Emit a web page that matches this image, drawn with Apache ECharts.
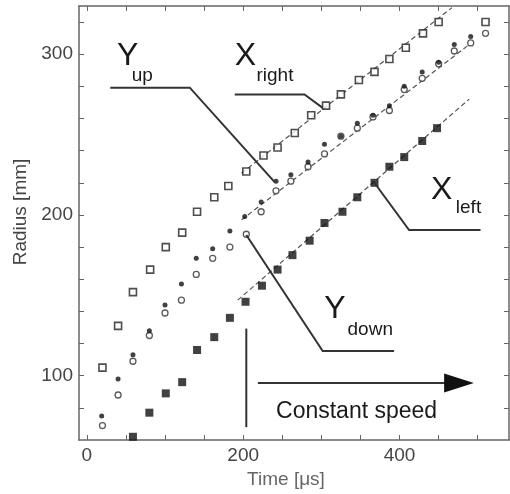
<!DOCTYPE html>
<html>
<head>
<meta charset="utf-8">
<script src="https://cdn.jsdelivr.net/npm/echarts@6/dist/echarts.min.js"></script>
<style>
html,body{margin:0;padding:0;background:#fff;}
#c{width:510px;height:494px;}
</style>
</head>
<body>
<div id="c"></div>
<script>
// ---- data ----
const xTickValues = [0, 50, 100, 150, 200, 250, 300, 350, 400, 450, 500];
const xLabelValues = [0, 200, 400];
const yTickValues = [80, 100, 120, 140, 160, 180, 200, 220, 240, 260, 280, 300, 320];
const yLabelValues = [100, 200, 300];

// X_right: open squares
const xRightT = [20, 40, 59, 81, 101, 122, 141, 163, 181, 204, 226, 244, 266, 287, 306, 325, 348, 368, 387, 408, 430, 450, 510];
const xRightR = [105, 131, 152, 166, 180, 189, 202, 211, 218, 227, 237, 242, 251, 262, 268, 275, 284, 289, 297, 304, 313, 320, 320];

// Y_up: open circles
const yUpT = [20, 40, 59, 80, 100, 121, 140, 161, 183, 204, 223, 242, 261, 283, 304, 325, 346, 366, 387, 406, 429, 450, 470, 491, 510];
const yUpR = [69, 88, 109, 125, 139, 147, 163, 173, 180, 188, 202, 215, 221, 230, 238, 249, 254, 261, 265, 278, 285, 294, 302, 307, 313];

// Y_down: small filled dots
const yDownT = [19, 40, 59, 80, 100, 121, 140, 161, 183, 202, 223, 242, 261, 283, 304, 325, 346, 366, 387, 406, 429, 450, 470, 491];
const yDownR = [75, 98, 113, 128, 144, 157, 173, 179, 190, 199, 208, 221, 225, 233, 244, 249, 257, 262, 268, 280, 289, 295, 306, 311];

// X_left: filled squares
const xLeftT = [59, 80, 101, 122, 141, 163, 183, 203, 224, 244, 263, 285, 304, 327, 346, 368, 387, 406, 429, 448];
const xLeftR = [62, 77, 89, 96, 116, 124, 136, 146, 156, 166, 175, 184, 195, 202, 211, 220, 230, 236, 246, 254];

// dashed linear fits (constant-speed regime), endpoints
const fitUpperT = [198, 467];
const fitUpperR = [226, 329];
const fitMidT = [198, 489];
const fitMidR = [197, 306];
const fitLowT = [193, 489];
const fitLowR = [147, 272];

function pairs(t, r) { return t.map((v, i) => [v, r[i]]); }

const FONT = 'Liberation Sans, Arial, Helvetica, sans-serif';
const AXIS_COLOR = '#666';

const chart = echarts.init(document.getElementById('c'), null, {renderer: 'canvas'});

function xAx(pos, labels) {
  return {
    type: 'value', position: pos, min: -10, max: 540,
    axisLine: {show: true, onZero: false, lineStyle: {color: AXIS_COLOR, width: 1.5}},
    axisTick: {show: true, inside: true, length: 5, customValues: xTickValues, lineStyle: {color: AXIS_COLOR, width: 1}},
    axisLabel: labels ? {show: true, customValues: xLabelValues, fontFamily: FONT, fontSize: 19, color: '#444', margin: 6} : {show: false},
    splitLine: {show: false},
    name: labels ? 'Time [\u03bcs]' : '',
    nameLocation: 'middle', nameGap: 27,
    nameTextStyle: {fontFamily: FONT, fontSize: 19, color: '#666', padding: [0, 16, 0, 0]}
  };
}
function yAx(pos, labels) {
  return {
    type: 'value', position: pos, min: 60, max: 330,
    axisLine: {show: true, onZero: false, lineStyle: {color: AXIS_COLOR, width: 1.5}},
    axisTick: {show: true, inside: true, length: 5, customValues: yTickValues, lineStyle: {color: AXIS_COLOR, width: 1}},
    axisLabel: labels ? {show: true, customValues: yLabelValues, fontFamily: FONT, fontSize: 19, color: '#444', margin: 6} : {show: false},
    splitLine: {show: false},
    name: labels ? 'Radius [mm]' : '',
    nameLocation: 'middle', nameGap: 48,
    nameTextStyle: {fontFamily: FONT, fontSize: 19, color: '#444', padding: [0, 0, 0, 22]}
  };
}

const fitStyle = {color: '#555', width: 1.2, type: [5, 3]};

const option = {
  animation: false,
  backgroundColor: '#fff',
  grid: {left: 79, right: 1, top: 6, bottom: 54, containLabel: false},
  xAxis: [xAx('bottom', true), xAx('top', false)],
  yAxis: [yAx('left', true), yAx('right', false)],
  series: [
    {type: 'line', data: pairs(fitUpperT, fitUpperR), showSymbol: false, symbol: 'none', lineStyle: fitStyle, silent: true, z: 1},
    {type: 'line', data: pairs(fitMidT, fitMidR), showSymbol: false, symbol: 'none', lineStyle: fitStyle, silent: true, z: 1},
    {type: 'line', data: pairs(fitLowT, fitLowR), showSymbol: false, symbol: 'none', lineStyle: fitStyle, silent: true, z: 1},
    {name: 'X_right', type: 'scatter', data: pairs(xRightT, xRightR), symbol: 'rect', symbolSize: 7,
     itemStyle: {color: '#fff', borderColor: '#222', borderWidth: 1.6}, z: 3},
    {name: 'Y_up', type: 'scatter', data: pairs(yUpT, yUpR), symbol: 'circle', symbolSize: 6,
     itemStyle: {color: '#fff', borderColor: '#333', borderWidth: 1.3}, z: 3},
    {name: 'Y_down', type: 'scatter', data: pairs(yDownT, yDownR), symbol: 'circle', symbolSize: 5,
     itemStyle: {color: '#111'}, z: 4},
    {name: 'X_left', type: 'scatter', data: pairs(xLeftT, xLeftR), symbol: 'rect', symbolSize: 8,
     itemStyle: {color: '#111'}, z: 3}
  ]
};
chart.setOption(option);

// ---- annotations (leader lines, arrow, labels) placed in data space ----
const P = (t, r) => chart.convertToPixel({xAxisIndex: 0, yAxisIndex: 0}, [t, r]);
const LEAD = {stroke: '#333', lineWidth: 2, fill: null};
function poly(pts) { return {type: 'polyline', shape: {points: pts.map(p => P(p[0], p[1]))}, style: LEAD, z: 10, silent: true}; }
function txt(t, r, s, size) {
  const p = P(t, r);
  return {type: 'text', x: p[0], y: p[1], style: {text: s, font: size + 'px ' + FONT, fill: '#1a1a1a', textAlign: 'left', textVerticalAlign: 'middle'}, z: 11, silent: true};
}
const arrowTip = P(495, 95.4), arrowBase = P(457, 95.4);
const graphics = [
  poly([[30, 279.2], [131.7, 279.2], [240, 220.6]]),
  poly([[189.2, 274.9], [278.4, 274.9], [301.7, 266.6]]),
  poly([[367.6, 220.2], [412.2, 190.6], [503.6, 190.6]]),
  poly([[204, 187.5], [301.7, 115.3], [393, 115.3]]),
  poly([[204, 129.3], [204, 68]]),
  poly([[218.8, 95.4], [460, 95.4]]),
  {type: 'polygon', shape: {points: [arrowTip, [arrowBase[0], arrowBase[1] - 9.5], [arrowBase[0], arrowBase[1] + 9.5]]}, style: {fill: '#111'}, z: 10, silent: true},
  txt(38.7, 298.6, 'Y', 32),
  txt(57.4, 286.6, 'up', 19),
  txt(189.2, 298.6, 'X', 32),
  txt(217, 286.6, 'right', 19),
  txt(440.2, 215.6, 'X', 32),
  txt(472, 204.4, 'left', 19),
  txt(303.8, 141.6, 'Y', 32),
  txt(333.5, 128.7, 'down', 19),
  txt(242, 77.7, 'Constant speed', 23)
];
chart.setOption({graphic: graphics});
</script>
</body>
</html>
